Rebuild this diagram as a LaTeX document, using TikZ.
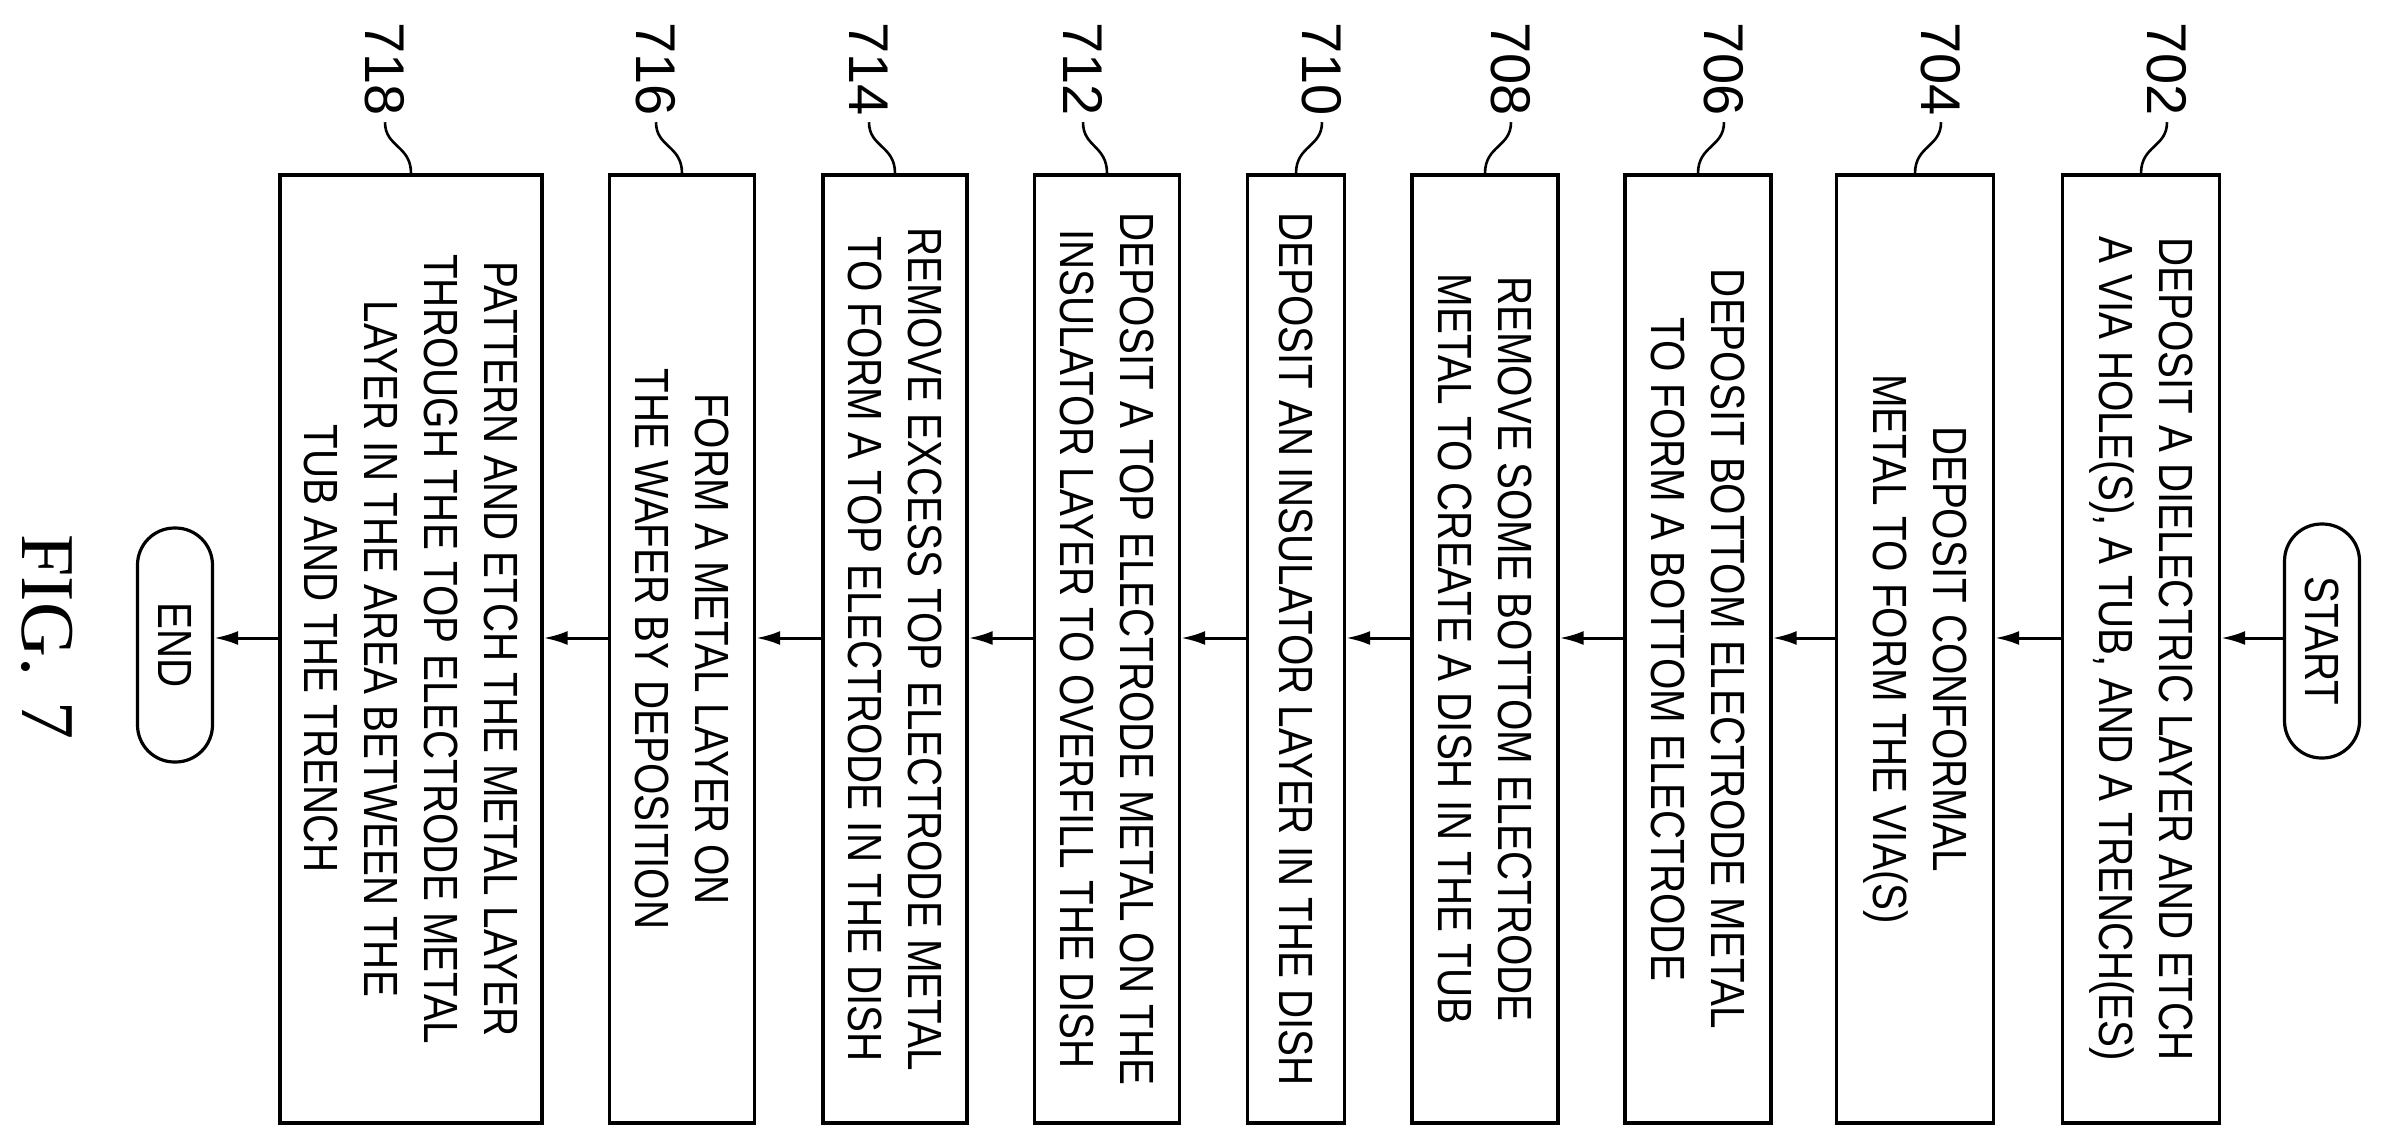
\documentclass[tikz,border=0pt]{standalone}
\usepackage{fontspec}
\setmainfont{Liberation Sans}[FakeStretch=0.84]
\newfontfamily\labfont{Liberation Sans}
\newfontfamily\figfont{Liberation Serif}
\usetikzlibrary{arrows.meta}
\begin{document}
\begin{tikzpicture}[x=0.5pt,y=-0.5pt,
  box/.style={draw,line width=1.6pt,rotate=-90,align=center,inner sep=0pt,
    minimum width=474pt,font=\fontsize{24}{30}\selectfont},
  term/.style={draw,line width=1.6pt,rotate=-90,inner sep=0pt,minimum width=117pt,
    minimum height=37.5pt,rounded corners=18.5pt,font=\fontsize{24}{30}\selectfont},
  lab/.style={rotate=-90,inner sep=1pt,font=\labfont\fontsize{28}{30}\selectfont},
  lead/.style={line width=1.3pt},
  arr/.style={line width=1.5pt,-{Latex[length=12pt,width=7pt]}}]
\useasboundingbox (0,0) rectangle (2382,1145);
\coordinate (ay) at (0,638);
% terminals
\node[term] (start) at (2322,641) {START};
\node[term] (end) at (175,645) {END};
% boxes
\node[box,minimum height=78.5pt] (b702) at (2141,649) {DEPOSIT A DIELECTRIC LAYER AND ETCH\\A VIA HOLE(S), A TUB, AND A TRENCH(ES)};
\node[box,minimum height=78.5pt] (b704) at (1915,649) {DEPOSIT CONFORMAL\\METAL TO FORM THE VIA(S)};
\node[box,minimum height=73pt] (b706) at (1698,649) {DEPOSIT BOTTOM ELECTRODE METAL\\TO FORM A BOTTOM ELECTRODE};
\node[box,minimum height=73pt] (b708) at (1485,649) {REMOVE SOME BOTTOM ELECTRODE\\METAL TO CREATE A DISH IN THE TUB};
\node[box,minimum height=48.5pt] (b710) at (1296,649) {DEPOSIT AN INSULATOR LAYER IN THE DISH};
\node[box,minimum height=72.5pt] (b712) at (1107,649) {DEPOSIT A TOP ELECTRODE METAL ON THE\\INSULATOR LAYER TO OVERFILL THE DISH};
\node[box,minimum height=72pt] (b714) at (895,649) {REMOVE EXCESS TOP ELECTRODE METAL\\TO FORM A TOP ELECTRODE IN THE DISH};
\node[box,minimum height=72.5pt] (b716) at (682,649) {FORM A METAL LAYER ON\\THE WAFER BY DEPOSITION};
\node[box,minimum height=131pt] (b718) at (411,649) {PATTERN AND ETCH THE METAL LAYER\\THROUGH THE TOP ELECTRODE METAL\\LAYER IN THE AREA BETWEEN THE\\TUB AND THE TRENCH};
% arrows
\draw[arr] (start.south |- ay) -- (b702.north |- ay);
\draw[arr] (b702.south |- ay) -- (b704.north |- ay);
\draw[arr] (b704.south |- ay) -- (b706.north |- ay);
\draw[arr] (b706.south |- ay) -- (b708.north |- ay);
\draw[arr] (b708.south |- ay) -- (b710.north |- ay);
\draw[arr] (b710.south |- ay) -- (b712.north |- ay);
\draw[arr] (b712.south |- ay) -- (b714.north |- ay);
\draw[arr] (b714.south |- ay) -- (b716.north |- ay);
\draw[arr] (b716.south |- ay) -- (b718.north |- ay);
\draw[arr] (b718.south |- ay) -- (end.north |- ay);
% labels (right of leader end)
\foreach \n/\x in {702/2167,704/1941,706/1724,708/1511,710/1322}{
  \node[lab,anchor=west] (l\n) at (\x,20) {\n};
  \draw[lead] (l\n.east) ++(0,4) .. controls +(0,25) and +(0,-28) .. (b\n.west);
}
\foreach \n/\x in {712/1083,714/869,716/656,718/385}{
  \node[lab,anchor=west] (l\n) at (\x,20) {\n};
  \draw[lead] (l\n.east) ++(0,4) .. controls +(0,25) and +(0,-28) .. (b\n.west);
}
\node[rotate=-90,inner sep=0pt,font=\figfont\fontsize{38}{40}\selectfont] (fig) at (47,637) {FIG.\,\,7};
\end{tikzpicture}
\end{document}
